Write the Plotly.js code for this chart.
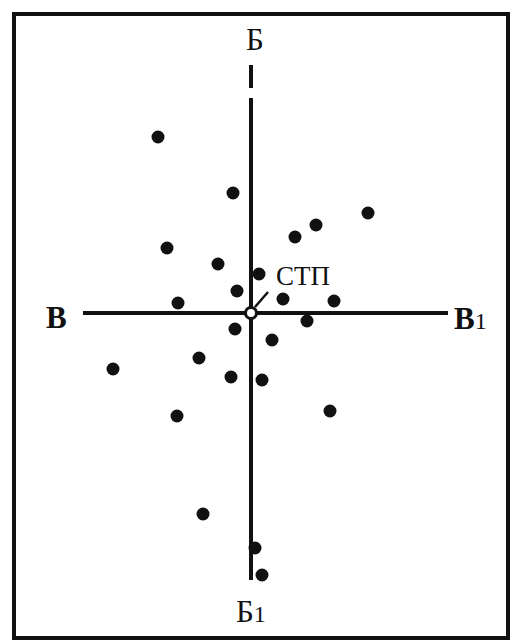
<!DOCTYPE html>
<html>
<head>
<meta charset="utf-8">
<script src="https://cdn.plot.ly/plotly-3.0.1.min.js"></script>
<style>
  html, body { margin: 0; padding: 0; background: #fff; }
  #chart { width: 511px; height: 644px; }
</style>
</head>
<body>
<div id="chart"></div>
<script>
// Точки попадания: отклонения от СТП по направлению (x) и по дальности (y)
const hitX = [-93, -18, 117, 65, 44, -84, -33, 8, -14, -73, 32, 83, 56, -16, 21, -52, -138, -20, 11, 79, -74, -48, 4, 11];
const hitY = [176, 120, 100, 88, 76, 65, 49, 39, 22, 10, 14, 12, -8, -16, -27, -45, -56, -64, -67, -98, -103, -201, -235, -262];

// Средняя точка попадания (центр рассеивания)
const stpX = [0];
const stpY = [0];

// Подписи осей рассеивания
const labelTop = 'Б';
const labelBottom = 'Б';
const labelLeft = 'В';
const labelRight = 'В';
const labelIndex = '1';
const labelStp = 'СТП';

const ink = '#111';
const serif = 'Liberation Serif, Times New Roman, serif';

const traces = [
  {
    type: 'scatter', mode: 'markers',
    x: hitX, y: hitY,
    marker: { size: 13, color: ink },
    hoverinfo: 'skip'
  },
  {
    type: 'scatter', mode: 'markers',
    x: stpX, y: stpY,
    marker: { size: 11, color: '#fff', line: { color: ink, width: 3 } },
    hoverinfo: 'skip'
  }
];

const shapes = [
  // рамка
  { type: 'rect', xref: 'x', yref: 'y', x0: -237, x1: 257, y0: -325, y1: 299,
    line: { color: ink, width: 4 }, layer: 'below' },
  // ось В–В1
  { type: 'line', xref: 'x', yref: 'y', x0: -168, x1: 197, y0: 0, y1: 0,
    line: { color: ink, width: 4 }, layer: 'below' },
  // ось Б–Б1
  { type: 'line', xref: 'x', yref: 'y', x0: 0, x1: 0, y0: 215, y1: -267,
    line: { color: ink, width: 4 }, layer: 'below' },
  { type: 'line', xref: 'x', yref: 'y', x0: 0, x1: 0, y0: 248, y1: 225,
    line: { color: ink, width: 4 }, layer: 'below' },
  // выноска к СТП
  { type: 'line', xref: 'x', yref: 'y', x0: 4, x1: 17, y0: 6, y1: 21,
    line: { color: ink, width: 2.5 } }
];

const annotations = [
  { x: 4, y: 274, text: labelTop, showarrow: false,
    font: { family: serif, size: 31, color: ink } },
  { x: 0, y: -298, text: labelBottom + '<span style="font-size:24px">' + labelIndex + '</span>', showarrow: false,
    font: { family: serif, size: 31, color: ink } },
  { x: -195, y: -4, text: '<b>' + labelLeft + '</b>', showarrow: false,
    font: { family: serif, size: 31, color: ink } },
  { x: 219, y: -5, text: '<b>' + labelRight + '</b><span style="font-size:24px">' + labelIndex + '</span>', showarrow: false,
    font: { family: serif, size: 31, color: ink } },
  { x: 52, y: 37, text: labelStp, showarrow: false,
    font: { family: serif, size: 27, color: ink } }
];

const layout = {
  width: 511, height: 644,
  margin: { l: 0, r: 0, t: 0, b: 0 },
  paper_bgcolor: '#fff', plot_bgcolor: '#fff',
  showlegend: false,
  xaxis: { range: [-251, 260], visible: false, fixedrange: true },
  yaxis: { range: [-331, 313], visible: false, fixedrange: true },
  shapes: shapes,
  annotations: annotations
};

Plotly.newPlot('chart', traces, layout, { displayModeBar: false, staticPlot: true });
</script>
</body>
</html>
